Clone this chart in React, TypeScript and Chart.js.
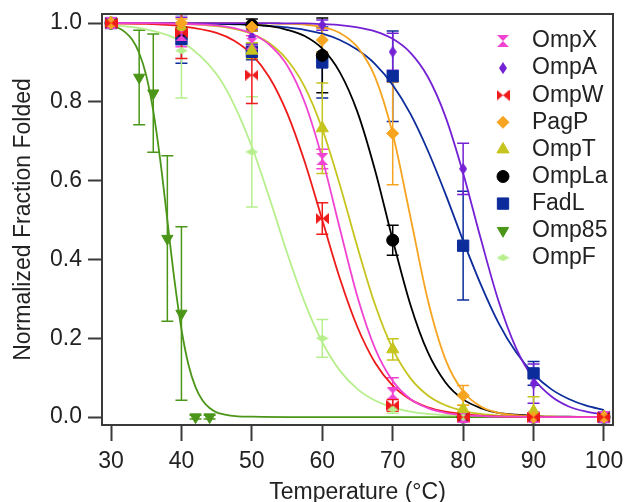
import React, { useEffect, useRef } from 'react';
import { Chart, registerables } from 'chart.js';
import { drawPoint } from 'chart.js/helpers';

Chart.register(...registerables);

const seriesNames = ['OmpX', 'OmpA', 'OmpW', 'PagP', 'OmpT', 'OmpLa', 'FadL', 'Omp85', 'OmpF'];
const seriesColors = ['#f043d2', '#7420d4', '#ef1a1a', '#f7a420', '#c6c41e', '#000000', '#0c2c9c', '#4b9619', '#b6ef8c'];
// stacking of the markers, top-most first
const markerStack = ['OmpW', 'PagP', 'OmpT', 'OmpF', 'Omp85', 'OmpX', 'OmpA', 'OmpLa', 'FadL'];

const xTicks = [30, 40, 50, 60, 70, 80, 90, 100];
const yTicks = [0, 0.2, 0.4, 0.6, 0.8, 1.0];

const temps = [30, 40, 50, 60, 70, 80, 90, 100];
const ompXValues = [1.0, 0.97, 0.948, 0.655, 0.06, 0.0, 0.0, 0.0];
const ompXErrors = [0, 0.03, 0.02, 0.025, 0.04, 0.01, 0.01, 0.01];
const ompAValues = [1.0, 0.98, 0.965, 0.995, 0.927, 0.63, 0.085, 0.0];
const ompAErrors = [0, 0.035, 0.02, 0.013, 0.047, 0.065, 0.05, 0.01];
const ompWValues = [1.0, 0.975, 0.868, 0.504, 0.03, 0.0, 0.0, 0.0];
const ompWErrors = [0, 0.065, 0.072, 0.04, 0.015, 0.005, 0.005, 0.005];
const pagPValues = [1.0, 1.0, 0.99, 0.957, 0.72, 0.055, 0.0, 0.0];
const pagPErrors = [0, 0.01, 0.01, 0.03, 0.13, 0.025, 0.005, 0.005];
const ompTValues = [1.0, 0.99, 0.93, 0.733, 0.172, 0.02, 0.015, 0.0];
const ompTErrors = [0, 0.01, 0.02, 0.115, 0.027, 0.01, 0.037, 0.005];
const ompLaValues = [1.0, 0.98, 0.995, 0.918, 0.449, 0.0, 0.0, 0.0];
const ompLaErrors = [0, 0.02, 0.015, 0.095, 0.038, 0.005, 0.005, 0.005];
const fadLValues = [1.0, 0.96, 0.927, 0.9, 0.865, 0.435, 0.111, 0.0];
const fadLErrors = [0, 0.062, 0.02, 0.09, 0.115, 0.138, 0.03, 0.005];
const ompFValues = [1.0, 0.93, 0.673, 0.2, 0.02, 0.0, 0.0, 0.0];
const ompFErrors = [0, 0.12, 0.14, 0.048, 0.01, 0.005, 0.005, 0.005];
const omp85Temps = [30, 34, 36, 38, 40, 42, 44];
const omp85Values = [1.0, 0.862, 0.822, 0.453, 0.263, 0.0, 0.0];
const omp85Errors = [0, 0.12, 0.15, 0.21, 0.22, 0.005, 0.005];

// fitted curves
const curveTemps = [30, 35, 40, 45, 47.5, 50, 52.5, 55, 57.5, 60, 62.5, 65, 67.5, 70, 72.5, 75, 77.5, 80, 82.5, 85, 87.5, 90, 92.5, 95, 97.5, 100];
const ompXCurve = [1.0, 1.0, 0.998, 0.994, 0.987, 0.973, 0.945, 0.893, 0.799, 0.656, 0.478, 0.305, 0.174, 0.092, 0.046, 0.023, 0.011, 0.005, 0.003, 0.001, 0.001, 0, 0, 0, 0, 0];
const ompACurve = [1.0, 1.0, 1.0, 1.0, 1.0, 1.0, 1.0, 0.999, 0.999, 0.997, 0.995, 0.989, 0.979, 0.96, 0.925, 0.863, 0.762, 0.619, 0.453, 0.296, 0.176, 0.098, 0.053, 0.027, 0.014, 0.007];
const ompWCurve = [0.999, 0.998, 0.992, 0.975, 0.955, 0.92, 0.862, 0.772, 0.648, 0.5, 0.352, 0.228, 0.138, 0.08, 0.045, 0.025, 0.014, 0.008, 0.004, 0.002, 0.001, 0.001, 0, 0, 0, 0];
const pagPCurve = [1.0, 1.0, 1.0, 1.0, 1.0, 1.0, 0.999, 0.998, 0.996, 0.99, 0.975, 0.939, 0.863, 0.719, 0.509, 0.296, 0.146, 0.065, 0.027, 0.011, 0.005, 0.002, 0.001, 0, 0, 0];
const ompTCurve = [1.0, 1.0, 0.998, 0.992, 0.985, 0.972, 0.949, 0.907, 0.838, 0.731, 0.589, 0.431, 0.285, 0.173, 0.099, 0.055, 0.03, 0.016, 0.008, 0.004, 0.002, 0.001, 0.001, 0, 0, 0];
const ompLaCurve = [1.0, 1.0, 1.0, 0.999, 0.998, 0.996, 0.992, 0.983, 0.967, 0.935, 0.875, 0.774, 0.626, 0.45, 0.286, 0.164, 0.088, 0.045, 0.023, 0.011, 0.006, 0.003, 0.001, 0.001, 0, 0];
const fadLCurve = [1.0, 1.0, 0.999, 0.998, 0.997, 0.996, 0.993, 0.989, 0.983, 0.973, 0.957, 0.932, 0.896, 0.843, 0.77, 0.676, 0.566, 0.448, 0.337, 0.24, 0.165, 0.11, 0.071, 0.046, 0.029, 0.018];
const ompFCurve = [0.995, 0.984, 0.953, 0.87, 0.792, 0.686, 0.556, 0.417, 0.291, 0.19, 0.118, 0.071, 0.042, 0.025, 0.014, 0.008, 0.005, 0.003, 0.002, 0.001, 0.001, 0, 0, 0, 0, 0];
const omp85CurveTemps = [30, 31, 32, 33, 34, 35, 36, 37, 38, 39, 40, 41, 42, 43, 44, 45, 46, 48, 50, 55, 60, 70, 80, 90, 100];
const omp85Curve = [0.993, 0.988, 0.977, 0.958, 0.924, 0.867, 0.777, 0.651, 0.5, 0.349, 0.223, 0.133, 0.076, 0.042, 0.023, 0.012, 0.007, 0.002, 0.001, 0, 0, 0, 0, 0, 0];

const FONT = '"Liberation Sans", Arial, Helvetica, sans-serif';
const TEXT = '#222222';
const AXIS = '#3a3a3a';

function makeShape(w: number, h: number, color: string, kind: string): HTMLCanvasElement {
  const c = document.createElement('canvas');
  c.width = w;
  c.height = h;
  const g = c.getContext('2d')!;
  g.fillStyle = color;
  g.beginPath();
  if (kind === 'hourglass') {
    g.moveTo(0, 0); g.lineTo(w, 0); g.lineTo(0, h); g.lineTo(w, h);
  } else if (kind === 'bowtie') {
    g.moveTo(0, 0); g.lineTo(0, h); g.lineTo(w, 0); g.lineTo(w, h);
  } else {
    g.moveTo(w / 2, 0); g.lineTo(w, h / 2); g.lineTo(w / 2, h); g.lineTo(0, h / 2);
  }
  g.closePath();
  g.fill();
  return c;
}

const pts = (xs: number[], ys: number[]) => xs.map((x, i) => ({ x, y: ys[i] }));

export default function App() {
  const ref = useRef<HTMLCanvasElement>(null);
  useEffect(() => {
    const styles: any[] = [
      { pointStyle: makeShape(12, 12, seriesColors[0], 'hourglass'), radius: 6, rotation: 0 },
      { pointStyle: makeShape(8, 12, seriesColors[1], 'diamond'), radius: 6, rotation: 0 },
      { pointStyle: makeShape(13, 11, seriesColors[2], 'bowtie'), radius: 6, rotation: 0 },
      { pointStyle: 'rectRot', radius: 6, rotation: 0 },
      { pointStyle: 'triangle', radius: 7, rotation: 0 },
      { pointStyle: 'circle', radius: 6, rotation: 0 },
      { pointStyle: 'rect', radius: 8, rotation: 0 },
      { pointStyle: 'triangle', radius: 6.5, rotation: 180 },
      { pointStyle: makeShape(13, 7, seriesColors[8], 'diamond'), radius: 6, rotation: 0 },
    ];
    const markerData = [
      pts(temps, ompXValues), pts(temps, ompAValues), pts(temps, ompWValues), pts(temps, pagPValues),
      pts(temps, ompTValues), pts(temps, ompLaValues), pts(temps, fadLValues), pts(omp85Temps, omp85Values),
      pts(temps, ompFValues),
    ];
    const errorData = [ompXErrors, ompAErrors, ompWErrors, pagPErrors, ompTErrors, ompLaErrors, fadLErrors, omp85Errors, ompFErrors];
    const curveData = [
      pts(curveTemps, ompXCurve), pts(curveTemps, ompACurve), pts(curveTemps, ompWCurve), pts(curveTemps, pagPCurve),
      pts(curveTemps, ompTCurve), pts(curveTemps, ompLaCurve), pts(curveTemps, fadLCurve), pts(omp85CurveTemps, omp85Curve),
      pts(curveTemps, ompFCurve),
    ];

    const markerSets = markerStack.map((name) => {
      const i = seriesNames.indexOf(name);
      return {
        label: name,
        data: markerData[i],
        errors: errorData[i],
        showLine: false,
        pointStyle: styles[i].pointStyle,
        pointRadius: styles[i].radius,
        rotation: styles[i].rotation,
        backgroundColor: seriesColors[i],
        borderColor: seriesColors[i],
        pointBorderWidth: 1,
      };
    });
    const curveSets = seriesNames.map((name, i) => ({
      label: name + ' fit',
      data: curveData[i],
      showLine: true,
      pointRadius: 0,
      borderWidth: 1.8,
      borderColor: seriesColors[i],
      backgroundColor: seriesColors[i],
      cubicInterpolationMode: 'monotone',
      fill: false,
    }));

    const errorBars = {
      id: 'errorBars',
      beforeDatasetsDraw(chart: any) {
        const { ctx, chartArea: a, scales } = chart;
        const x = scales.x, y = scales.y;
        ctx.save();
        ctx.beginPath();
        ctx.rect(a.left, a.top, a.right - a.left, a.bottom - a.top);
        ctx.clip();
        chart.data.datasets.slice().reverse().forEach((ds: any) => {
          if (!ds.errors) return;
          ctx.strokeStyle = ds.borderColor;
          ctx.lineWidth = 1.5;
          ds.data.forEach((p: any, i: number) => {
            const e = ds.errors[i];
            if (!e) return;
            const px = x.getPixelForValue(p.x);
            const top = y.getPixelForValue(p.y + e);
            const bot = y.getPixelForValue(p.y - e);
            ctx.beginPath();
            ctx.moveTo(px, top); ctx.lineTo(px, bot);
            ctx.moveTo(px - 6, top); ctx.lineTo(px + 6, top);
            ctx.moveTo(px - 6, bot); ctx.lineTo(px + 6, bot);
            ctx.stroke();
          });
        });
        ctx.restore();
      },
    };

    const frame = {
      id: 'frame',
      afterDatasetsDraw(chart: any) {
        const { ctx, chartArea: a } = chart;
        ctx.save();
        ctx.strokeStyle = AXIS;
        ctx.lineWidth = 2;
        ctx.strokeRect(a.left, a.top, a.right - a.left, a.bottom - a.top);
        ctx.restore();
      },
    };

    const legendBox = {
      id: 'legendBox',
      afterDraw(chart: any) {
        const { ctx } = chart;
        ctx.save();
        ctx.font = `23px ${FONT}`;
        ctx.textBaseline = 'middle';
        ctx.textAlign = 'left';
        seriesNames.forEach((name, i) => {
          const yy = 41 + i * 27.1;
          ctx.fillStyle = seriesColors[i];
          ctx.strokeStyle = seriesColors[i];
          drawPoint(ctx, { pointStyle: styles[i].pointStyle, rotation: styles[i].rotation, radius: styles[i].radius, borderWidth: 1 }, 503, yy);
          ctx.fillStyle = TEXT;
          ctx.fillText(name, 532, yy);
        });
        ctx.restore();
      },
    };

    const chart = new Chart(ref.current!, {
      type: 'scatter',
      data: { datasets: [...markerSets, ...curveSets] as any },
      options: {
        responsive: false,
        animation: false,
        layout: { padding: { top: 14, right: 11, left: 0, bottom: 0 } },
        plugins: { legend: { display: false }, tooltip: { enabled: false } },
        scales: {
          x: {
            type: 'linear',
            min: 28.72,
            max: 101.28,
            afterBuildTicks: (s: any) => { s.ticks = xTicks.map((v) => ({ value: v })); },
            afterFit: (s: any) => { s.height = 77; s.paddingLeft = 0; s.paddingRight = 0; },
            ticks: { font: { size: 23, family: FONT }, color: TEXT, padding: 7, maxRotation: 0, callback: (v: any) => String(v) },
            grid: { drawOnChartArea: false, drawTicks: true, tickLength: 16, tickWidth: 2, tickColor: AXIS },
            border: { display: false },
            title: { display: true, text: 'Temperature (°C)', font: { size: 23, family: FONT }, color: TEXT, padding: { top: 0, bottom: -4 } },
          },
          y: {
            type: 'linear',
            min: -0.02,
            max: 1.023,
            afterBuildTicks: (s: any) => { s.ticks = yTicks.map((v) => ({ value: v })); },
            afterFit: (s: any) => { s.width = 102; s.paddingTop = 0; s.paddingBottom = 0; },
            ticks: { font: { size: 23, family: FONT }, color: TEXT, padding: 6, callback: (v: any) => Number(v).toFixed(1) },
            grid: { drawOnChartArea: false, drawTicks: true, tickLength: 14, tickWidth: 2, tickColor: AXIS },
            border: { display: false },
            title: { display: true, text: 'Normalized Fraction Folded', font: { size: 23, family: FONT }, color: TEXT, padding: { top: 10, bottom: 0 } },
          },
        },
      } as any,
      plugins: [errorBars, frame, legendBox],
    });
    return () => chart.destroy();
  }, []);

  return (
    <div style={{ position: 'absolute', left: 0, top: 0, width: 624, height: 502 }}>
      <canvas ref={ref} width={624} height={502} style={{ display: 'block' }} />
    </div>
  );
}
